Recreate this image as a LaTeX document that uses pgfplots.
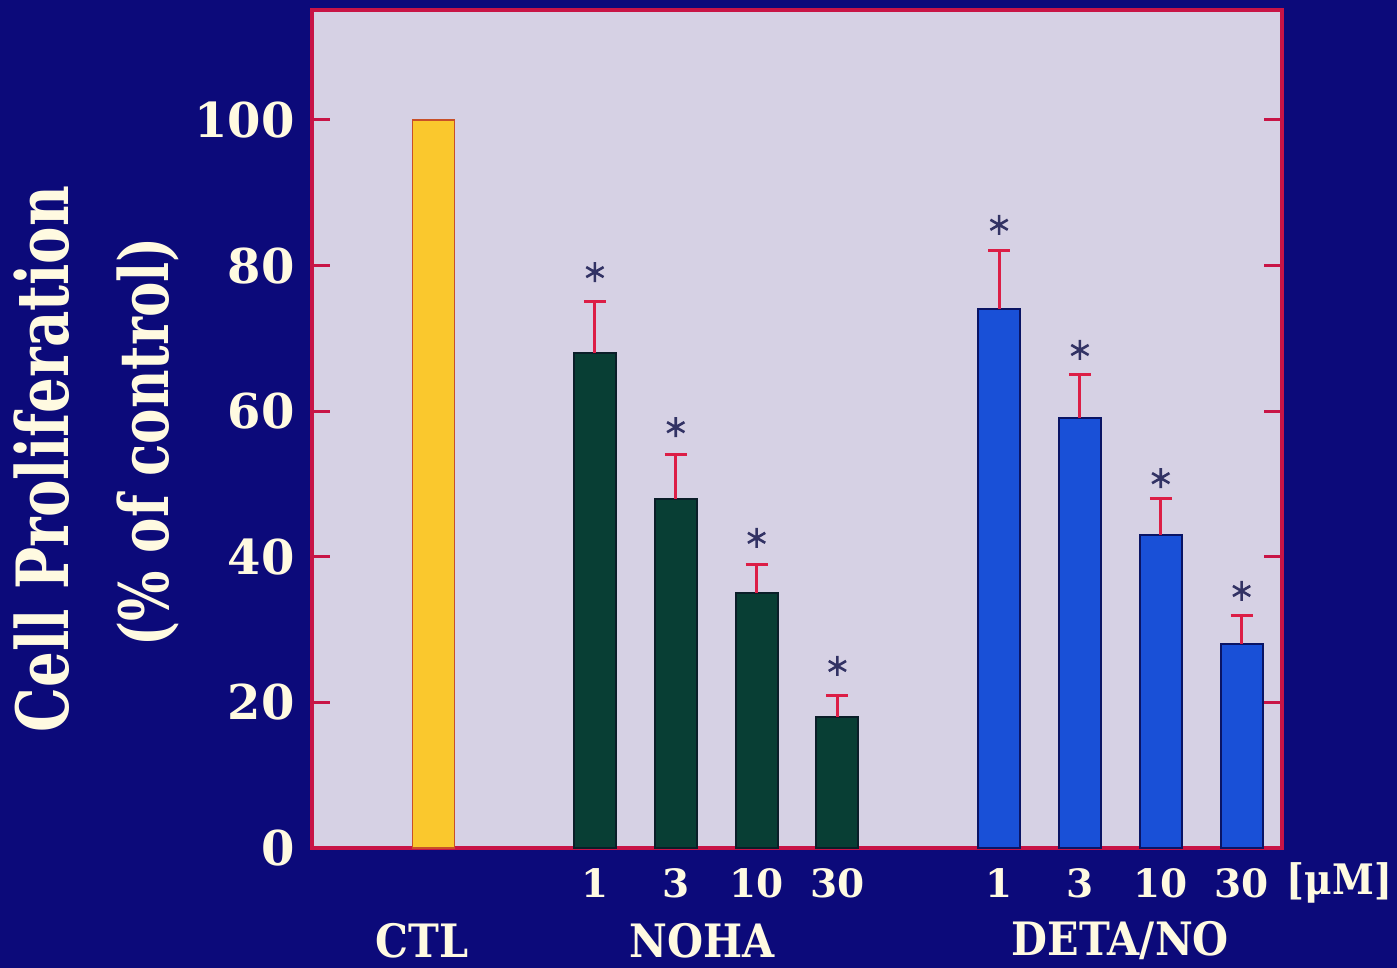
\documentclass[border=0pt]{standalone}
\usepackage{pgfplots}
\pgfplotsset{compat=1.18}
\usepackage{fontspec}
\setmainfont{DejaVu Serif}
\newfontfamily\condfont{DejaVu Serif}[FakeStretch=0.78]
\newfontfamily\grpfont{DejaVu Serif}[FakeStretch=0.9]
\definecolor{bg}{RGB}{12,10,122}
\definecolor{plotbg}{RGB}{214,209,228}
\definecolor{border}{RGB}{200,20,70}
\definecolor{ctlyellow}{RGB}{250,200,45}
\definecolor{ctledge}{RGB}{200,80,40}
\definecolor{nohagreen}{RGB}{8,62,52}
\definecolor{nohaedge}{RGB}{10,30,40}
\definecolor{detablue}{RGB}{25,80,215}
\definecolor{detaedge}{RGB}{10,20,100}
\definecolor{errred}{RGB}{220,30,70}
\definecolor{ast}{RGB}{50,50,100}
\definecolor{txt}{RGB}{255,250,225}
\begin{document}
\begin{tikzpicture}
\fill[bg] (0,0) rectangle (698.5pt,484pt);
\useasboundingbox (0,0) rectangle (698.5pt,484pt);
\begin{axis}[
  at={(156pt,60pt)}, anchor=south west,
  scale only axis, width=485pt, height=419pt,
  xmin=-1.5, xmax=10.5, ymin=0, ymax=115.1,
  axis background/.style={fill=plotbg},
  axis line style={draw=border, line width=2pt},
  ytick={0,20,...,100},
  tick align=inside, major tick length=9pt,
  ytick style={draw=border, line width=1.5pt},
  xtick={2,3,4,5,7,8,9,10},
  xticklabels={1,3,10,30,1,3,10,30},
  xtick style={draw=none},
  /pgf/number format/assume math mode=true,
  yticklabel style={font=\fontsize{24}{24}\selectfont\bfseries, text=txt, anchor=east, inner sep=0pt, xshift=-8.5pt},
  xticklabel style={font=\fontsize{19.5}{19.5}\selectfont\bfseries, text=txt, anchor=center, inner sep=0pt, yshift=-17.5pt},
  clip=false,
]
\addplot[ybar, bar width=0.52, bar shift=0pt, fill=ctlyellow, draw=ctledge, line width=0.6pt]
  coordinates {(0,100)};
\addplot[ybar, bar width=0.52, bar shift=0pt, fill=nohagreen, draw=nohaedge, line width=1pt,
  error bars/.cd, y dir=plus, y explicit,
  error bar style={draw=errred, line width=1.5pt},
  error mark options={rotate=90, draw=errred, line width=1.5pt, mark size=5.5pt}]
  coordinates {(2,68) +- (0,7) (3,48) +- (0,6) (4,35) +- (0,4) (5,18) +- (0,3)};
\addplot[ybar, bar width=0.52, bar shift=0pt, fill=detablue, draw=detaedge, line width=1pt,
  error bars/.cd, y dir=plus, y explicit,
  error bar style={draw=errred, line width=1.5pt},
  error mark options={rotate=90, draw=errred, line width=1.5pt, mark size=5.5pt}]
  coordinates {(7,74) +- (0,8) (8,59) +- (0,6) (9,43) +- (0,5) (10,28) +- (0,4)};
\addplot[only marks, mark=asterisk, mark size=5pt, line width=1.3pt, color=ast]
  coordinates {(2,79.1) (3,57.8) (4,42.6) (5,25) (7,85.6) (8,68.4) (9,50.8) (10,35.3)};
\node[font=\grpfont\fontsize{23}{23}\selectfont\bfseries, text=txt] at (axis cs:-0.14,0) [yshift=-46.5pt] {CTL};
\node[font=\grpfont\fontsize{23}{23}\selectfont\bfseries, text=txt] at (axis cs:3.33,0) [yshift=-46.5pt] {NOHA};
\node[font=\grpfont\fontsize{23}{23}\selectfont\bfseries, text=txt] at (axis cs:8.5,0) [yshift=-46.5pt] {DETA/NO};
\node[font=\grpfont\fontsize{21}{21}\selectfont\bfseries, text=txt] at (axis cs:11.21,0) [yshift=-17.5pt] {[μM]};
\end{axis}
\node[rotate=90, font=\condfont\fontsize{36}{36}\selectfont\bfseries, text=txt] at (21pt,254.5pt) {Cell Proliferation};
\node[rotate=90, font=\condfont\fontsize{34}{34}\selectfont\bfseries, text=txt] at (74pt,263pt) {(\% of control)};
\end{tikzpicture}
\end{document}
